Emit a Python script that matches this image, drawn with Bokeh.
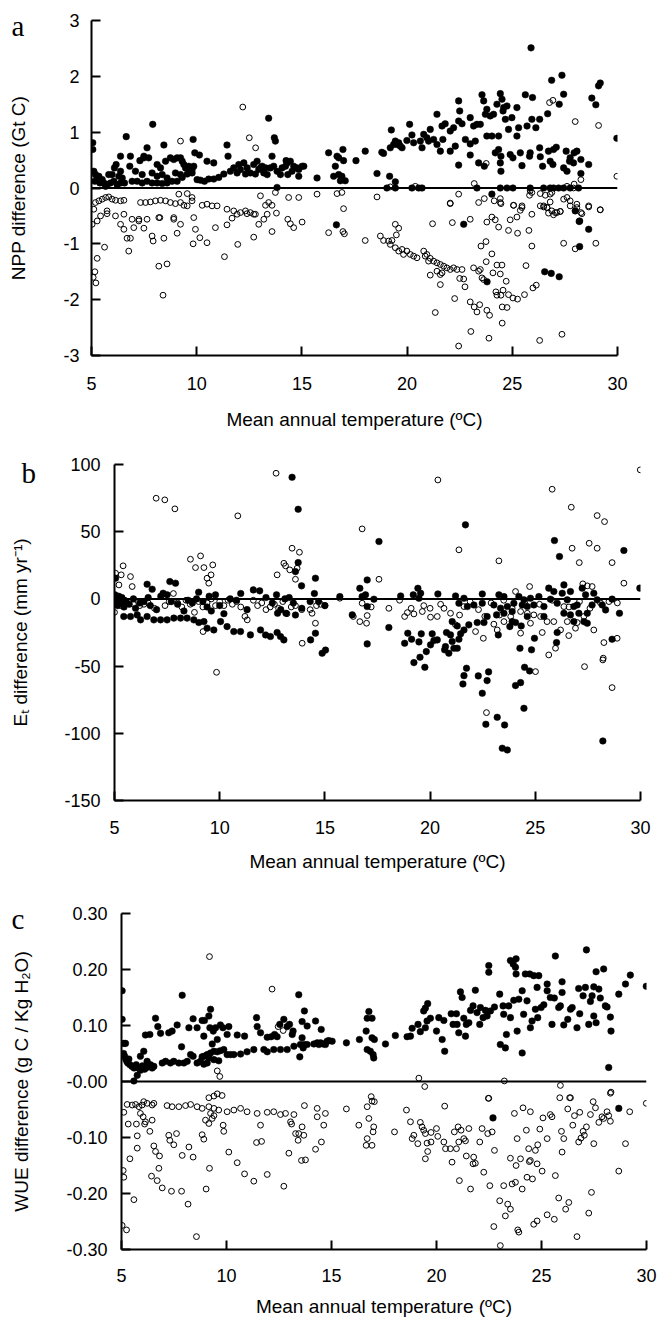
from bokeh.plotting import figure
from bokeh.models import Span, Label, FixedTicker, GridBox
from bokeh.embed import file_html
from bokeh.resources import INLINE

X_TICKS = [5, 10, 15, 20, 25, 30]
X_LABELS = ["5", "10", "15", "20", "25", "30"]
X_TITLE = "Mean annual temperature (ºC)"

# ---------------- Panel a : NPP difference (Gt C) ----------------
A_Y_TICKS = [-3, -2, -1, 0, 1, 2, 3]
A_Y_LABELS = ["-3", "-2", "-1", "0", "1", "2", "3"]
A_TITLE = "NPP difference (Gt C)"
A_FILLED = [
    (5.06,0.81),(5.06,0.69),(5.11,0.30),(5.19,0.24),(5.27,0.18),(5.35,0.21),(5.43,0.12),(5.51,0.15),
    (5.59,0.09),(5.67,0.03),(5.74,0.06),(5.90,0.09),(6.06,0.12),(6.22,0.06),(6.38,0.09),(6.57,0.09),
    (5.16,0.12),(5.40,0.09),(5.82,0.24),(6.65,0.92),(6.38,0.57),(6.17,0.42),(6.09,0.36),(6.85,0.57),
    (6.82,0.39),(7.64,0.72),(7.91,1.14),(7.30,0.49),(7.49,0.57),(8.44,0.77),(9.83,0.87),(9.91,0.63),
    (10.13,0.59),(10.49,0.48),(10.81,0.45),(11.44,0.77),(11.49,0.57),(13.42,1.25),(13.69,0.90),
    (13.74,0.84),(13.58,0.57),(14.25,0.49),(15.72,0.18),(16.27,0.63),(15.09,0.39),(14.85,0.33),
    (6.93,0.12),(7.17,0.12),(7.41,0.09),(7.64,0.12),(7.88,0.09),(8.12,0.09),(8.36,0.08),(8.59,0.09),
    (8.83,0.12),(9.07,0.12),(9.31,0.19),(9.55,0.25),(9.78,0.27),(10.02,0.15),(10.18,0.14),(10.37,0.12),
    (10.57,0.16),(10.81,0.16),(11.05,0.19),(11.29,0.25),(11.60,0.30),(11.92,0.27),(12.08,0.33),
    (12.32,0.25),(12.55,0.27),(12.79,0.25),(13.03,0.36),(13.19,0.27),(13.35,0.24),(13.50,0.36),
    (13.82,0.30),(13.98,0.24),(14.22,0.39),(14.33,0.24),(14.53,0.30),(14.77,0.36),(14.85,0.21),
    (15.01,0.39),(13.82,0.01),(7.49,0.54),(7.72,0.54),(8.12,0.42),(8.28,0.36),(8.52,0.48),(8.75,0.54),
    (8.91,0.51),(9.07,0.54),(9.23,0.54),(9.31,0.48),(9.39,0.42),(9.47,0.36),(9.62,0.39),(9.70,0.30),
    (9.78,0.33),(9.86,0.39),(9.23,0.24),(8.99,0.27),(8.59,0.18),(7.88,0.27),(8.12,0.21),(8.36,0.24),
    (7.41,0.24),(7.09,0.30),(6.38,0.30),(6.46,0.18),(6.30,0.21),(5.98,0.24),(11.76,0.36),(12.00,0.42),
    (12.24,0.45),(12.40,0.36),(12.71,0.42),(12.87,0.48),(13.11,0.39),(13.27,0.36),(12.95,0.33),
    (13.66,0.39),(14.06,0.36),(14.30,0.45),(14.45,0.48),(14.61,0.39),
    (16.67,0.57),(16.75,0.54),(16.95,0.69),(16.98,0.49),(16.59,0.39),(16.51,0.21),(16.75,0.24),
    (16.90,0.21),(17.06,0.13),(16.83,0.13),(17.57,0.49),(18.01,0.66),(18.57,0.26),(18.80,0.64),
    (18.88,0.62),(19.20,0.72),(19.25,1.04),(19.17,0.21),(19.44,0.11),(19.44,0.84),(19.52,0.78),
    (19.60,0.81),(19.68,0.75),(19.76,0.72),(19.36,0.78),(19.99,0.85),(20.12,1.14),(20.23,0.95),
    (20.31,0.81),(20.63,0.84),(20.71,0.72),(20.79,0.96),(20.94,0.90),(21.10,1.05),(21.02,0.84),
    (21.26,0.87),(21.42,0.78),(21.42,1.32),(21.58,0.66),(21.66,1.11),(21.81,1.15),(21.70,0.87),
    (22.05,0.66),(22.05,1.02),(22.21,1.08),(22.29,0.75),(22.45,1.56),(22.50,1.38),(22.45,1.20),
    (22.45,0.41),(22.61,1.15),(22.77,0.87),(23.00,0.59),(23.00,1.26),(23.00,0.79),(23.16,1.11),
    (23.24,0.84),(23.32,1.14),(23.48,1.14),(23.40,0.45),(23.56,1.67),(23.64,1.56),(23.72,1.32),
    (23.67,0.39),(23.79,1.41),(23.79,0.93),(23.95,1.29),(24.03,0.93),(24.11,1.32),(24.19,0.63),
    (24.27,1.50),(24.35,0.93),(24.35,0.69),(24.43,1.69),(24.46,0.57),(24.51,1.59),(24.43,0.45),
    (24.46,0.30),(24.56,1.38),(24.59,1.44),(24.67,1.23),(24.75,1.47),(24.82,1.05),(24.90,0.60),
    (24.98,1.26),(25.03,0.54),(25.22,1.44),(25.22,0.93),(25.30,1.08),(25.38,0.63),(25.46,0.40),
    (25.62,1.67),(25.70,1.11),(25.82,0.57),(25.85,0.63),(25.93,1.23),(25.96,1.62),(25.89,2.51),
    (26.12,1.08),(26.30,1.23),(26.30,0.72),(26.44,0.39),(26.33,0.56),(26.68,1.33),(26.72,0.66),
    (26.80,0.48),(26.87,1.93),(26.93,0.42),(26.96,0.69),(27.09,0.73),(27.23,1.50),(27.36,2.02),
    (27.44,1.68),(27.44,0.36),(27.56,0.66),(27.60,0.30),(27.72,0.48),(27.75,0.54),(27.91,0.45),
    (27.94,0.63),(28.07,0.66),(28.26,0.51),(28.26,0.26),(28.63,0.42),(28.78,1.61),(28.97,1.49),
    (29.10,1.83),(29.18,1.88),(29.97,0.89),
    (19.04,0.0),(19.44,0.0),(20.23,0.0),(20.55,0.0),(20.71,0.0),(23.32,0.0),(24.43,0.0),(24.75,0.0),
    (25.03,0.0),(25.85,0.0),(26.49,0.0),(26.80,0.0),(26.96,0.0),(27.20,0.0),(27.44,0.0),(27.75,0.0),
    (28.15,0.0),(24.03,-0.11),(27.99,-0.41),(28.20,-0.59),(16.64,-0.66),(22.69,-0.65),(23.80,-1.68),
    (26.54,-1.50),(26.85,-1.53),(27.23,-1.59),(28.18,-0.60),(28.63,-0.74),(28.20,-1.05),
]
A_OPEN = [
    (5.19,-0.26),(5.35,-0.23),(5.51,-0.20),(5.67,-0.17),(5.82,-0.16),(5.98,-0.20),(6.14,-0.22),
    (6.38,-0.23),(6.54,-0.22),(7.33,-0.26),(7.57,-0.26),(7.80,-0.25),(8.04,-0.23),(8.28,-0.22),
    (8.52,-0.23),(8.75,-0.26),(8.99,-0.28),(9.23,-0.26),(9.39,-0.31),(9.55,-0.32),(9.78,-0.23),
    (9.15,-0.11),(9.55,-0.10),(9.78,-0.17),(10.26,-0.31),(10.49,-0.29),(10.73,-0.32),(10.97,-0.32),
    (11.44,-0.38),(11.76,-0.41),(11.92,-0.47),(12.32,-0.41),(12.55,-0.44),(12.79,-0.47),(13.03,-0.14),
    (13.27,-0.31),(13.42,-0.26),(13.58,-0.31),(13.74,-0.08),(14.37,-0.17),(14.85,-0.17),(15.72,-0.11),
    (5.11,-0.38),(5.74,-0.41),(6.14,-0.50),(6.54,-0.47),(6.93,-0.56),(7.25,-0.56),(7.64,-0.56),
    (8.25,-0.53),(8.91,-0.53),(9.86,-0.53),(5.03,-0.65),(5.27,-0.59),(5.43,-0.50),(5.74,-0.46),
    (6.38,-0.65),(6.54,-0.74),(5.62,-1.06),(5.27,-1.26),(5.08,-1.60),(5.16,-1.50),(5.21,-1.70),
    (6.69,-0.90),(6.85,-0.90),(6.77,-1.13),(7.01,-0.71),(7.25,-0.59),(7.49,-0.72),(7.88,-0.86),
    (7.93,-0.95),(8.20,-0.53),(8.44,-0.90),(8.20,-1.40),(8.59,-1.36),(8.40,-1.92),(8.91,-0.56),
    (9.07,-0.81),(9.23,-0.65),(9.94,-0.74),(9.83,-1.00),(10.15,-0.89),(10.49,-0.98),(10.89,-0.71),
    (11.32,-1.23),(11.44,-0.66),(11.68,-0.54),(11.95,-1.01),(12.71,-0.88),(12.95,-0.65),(13.19,-0.56),
    (13.58,-0.78),(13.79,-0.45),(14.33,-0.56),(14.61,-0.71),(14.45,-0.64),(15.01,-0.61),(16.27,-0.80),
    (13.35,-0.47),(12.08,-0.44),(12.39,-0.46),(12.71,-0.47),(9.23,0.84),(12.19,1.45),(12.50,0.90),
    (12.80,0.72),
    (16.67,-0.10),(16.90,-0.08),(16.98,-0.37),(18.57,-0.16),(22.05,-0.27),(22.45,-0.11),(23.19,0.08),
    (23.40,-0.26),(23.67,-0.19),(24.14,-0.23),(24.43,-0.19),(24.46,-0.28),(25.06,-0.31),(25.46,-0.32),
    (25.38,-0.40),(25.82,-0.13),(25.93,-0.08),(26.33,-0.10),(26.57,-0.13),(26.80,-0.11),(26.88,-0.08),
    (26.49,-0.32),(26.65,-0.35),(26.80,-0.25),(27.04,-0.44),(27.28,-0.42),(27.44,-0.20),(27.60,-0.17),
    (27.75,-0.23),(28.07,-0.29),(28.26,-0.44),(28.63,-0.32),(29.18,-0.39),(28.26,0.15),(27.94,0.07),
    (27.60,0.03),(26.77,1.53),(26.93,1.57),(27.99,1.19),(29.10,1.12),(29.97,0.21),(23.76,0.44),
    (19.20,0.02),(20.39,0.03),(25.85,-0.05),(27.91,0.0),
    (16.95,-0.78),(17.02,-0.82),(18.01,-0.94),(18.73,-0.86),(18.88,-0.94),(19.12,-0.95),(19.20,-1.01),
    (19.28,-0.94),(19.44,-0.65),(19.60,-0.72),(19.49,-0.84),(19.44,-1.07),(19.60,-1.13),(19.76,-1.10),
    (19.83,-1.19),(19.99,-1.13),(20.15,-1.19),(20.31,-1.22),(20.47,-1.25),(20.79,-1.13),(20.86,-1.22),
    (20.94,-1.19),(21.10,-1.26),(21.02,-1.31),(21.26,-1.31),(21.42,-1.34),(21.58,-1.37),(21.74,-1.40),
    (21.89,-1.43),(22.05,-1.46),(22.21,-1.43),(22.37,-1.46),(22.61,-1.46),(21.10,-1.56),(21.42,-1.49),
    (21.58,-1.55),(21.66,-1.52),(21.58,-1.73),(22.50,-1.62),(22.69,-1.63),(22.75,-1.77),(22.26,-1.98),
    (21.34,-2.23),(21.21,-0.64),(22.15,-0.62),(22.05,-0.28),(23.00,-0.56),(23.16,-1.43),(23.40,-1.49),
    (23.48,-1.46),(23.56,-1.61),(23.64,-1.64),(23.76,-1.32),(23.51,-1.04),(23.75,-0.96),(24.03,-1.18),
    (23.79,-0.61),(24.03,-0.52),(24.19,-0.57),(24.35,-0.70),(24.43,-0.26),(24.90,-0.57),(25.06,-0.31),
    (25.22,-0.52),(25.46,-0.35),(25.93,-0.47),(25.79,-0.76),(24.82,-0.76),(25.25,-0.81),(25.93,-1.04),
    (25.65,-1.39),(24.27,-1.38),(24.51,-1.38),(24.08,-1.52),(24.43,-1.54),(24.71,-1.67),(24.22,-1.86),
    (24.27,-1.92),(24.56,-1.83),(24.46,-1.92),(24.82,-1.91),(25.03,-1.97),(25.25,-1.99),(25.58,-1.91),
    (25.98,-1.79),(26.14,-1.74),(24.52,-2.13),(24.75,-2.14),(23.00,-2.04),(23.19,-2.13),(23.32,-2.22),
    (23.45,-2.09),(23.79,-2.19),(23.92,-2.28),(24.52,-2.42),(23.03,-2.57),(23.89,-2.69),(22.45,-2.83),
    (26.30,-2.73),(27.36,-2.62),(27.44,-0.99),(27.99,-1.09),(28.07,-0.35),(28.31,-0.46),(28.63,-0.34),
    (28.97,-0.99),(29.18,-0.39),(27.28,-0.42),(26.96,-0.48),(26.65,-0.35),(26.72,-0.45),(26.33,-0.32),
    (26.49,-0.34),(26.88,-0.41),(27.12,-0.44),(27.75,-0.32),
]

# ---------------- Panel b : Et difference (mm/yr) ----------------
B_Y_TICKS = [-150, -100, -50, 0, 50, 100]
B_Y_LABELS = ["-150", "-100", "-50", "0", "50", "100"]
B_TITLE = "Eₜ difference (mm yr⁻¹)"
B_FILLED = [
    (13.44,90.5),(13.73,66.7),(21.68,55.1),(17.57,42.7),(25.91,43.4),(26.15,31.5),(29.21,36.0),
    (13.73,27.0),(13.60,20.3),(14.55,15.4),(13.89,9.7),(17.01,14.1),(16.66,7.9),(29.97,8.0),
    (25.64,8.0),(26.36,10.4),(5.05,15.4),(6.55,10.9),(6.79,7.2),(7.63,12.9),(7.90,11.7),(7.31,4.2),
    (5.44,-13.1),(5.76,-13.1),(6.08,-11.9),(6.24,-15.6),(6.55,-13.1),(6.87,-15.6),(7.19,-15.6),
    (7.50,-15.6),(7.82,-14.3),(8.14,-14.3),(8.45,-14.3),(8.77,-15.6),(9.01,-17.6),(9.25,-16.9),
    (9.40,-21.8),(9.72,-23.1),(10.04,-16.9),(10.35,-20.6),(10.67,-24.3),(10.99,-24.3),(11.46,-26.8),
    (11.94,-23.1),(12.18,-26.8),(12.41,-28.0),(12.73,-25.0),(12.89,-28.0),(13.05,-30.5),(14.32,-30.5),
    (14.55,-25.5),(14.87,-40.4),(15.03,-38.1),
    (5.02,3),(5.05,-2),(5.10,0),(5.15,-5),(5.20,2),(5.30,-3),(5.35,1),(5.45,-6),(5.55,-2),(5.70,-4),
    (5.90,0),(6.00,-7),(6.20,-3),(6.40,-2),(6.60,1),(6.70,-5),(7.00,-8),(7.20,2),(7.50,3),(7.70,-2),
    (8.00,-4),(8.30,-9),(8.50,-1),(8.70,-3),(8.90,0),(9.00,5),(9.20,-2),(9.40,-6),(9.50,2),(9.60,-9),
    (9.80,3),(10.00,-5),(10.20,-11),(10.50,0),(10.80,-1),(11.00,4),(11.30,-8),(11.60,6.7),(11.90,6),
    (12.20,1),(12.50,-3),(12.70,3),(12.90,-8),(13.10,0),(13.30,1),(13.50,-3),(13.60,-12),(13.90,-7),
    (14.30,-2),(14.50,4),(14.70,-2),(15.00,-5),(12.75,-10.7),(13.15,-10.7),
    (15.71,1.7),(16.77,1.7),(16.93,3.0),(17.01,-5.7),(17.33,-0.2),(18.60,2.2),(19.20,3.0),(19.42,7.9),
    (19.47,0.5),(19.55,4.2),(20.37,3.7),(21.21,2.2),(21.37,-3.2),(21.61,0.5),(21.77,-5.7),(22.08,-4.5),
    (22.48,3.7),(22.48,-3.2),(23.03,-4.5),(23.27,3.0),(23.35,-6.9),(23.51,1.7),(23.67,-5.7),(23.90,-9.4),
    (23.98,-3.2),(24.22,1.7),(24.38,-4.5),(24.46,-0.7),(24.62,-5.7),(24.77,0.5),(24.93,-4.5),(25.17,1.7),
    (25.41,-5.7),(25.72,-0.2),(25.88,5.5),(26.04,-3.2),(26.28,4.2),(26.52,-0.7),(26.67,5.5),(26.83,-5.7),
    (26.99,-4.5),(27.23,8.0),(27.39,3.0),(27.47,-10.7),(27.70,-4.5),(27.78,4.2),(27.94,-0.7),(28.18,-4.5),
    (28.34,-8.2),(28.65,-0.2),(29.00,-10.7),
    (16.30,-11.9),(18.04,-21.3),(17.01,-33.5),(18.79,-33.0),(19.12,-30.0),(19.47,-32.0),(18.94,-25.5),
    (19.58,-26.0),(20.10,-26.0),(20.34,-30.5),(20.78,-25.0),(20.97,-26.8),(20.73,-35.5),(21.05,-31.7),
    (21.13,-36.7),(20.89,-40.4),(20.69,-37.9),(21.29,-36.7),(21.45,-26.0),(21.37,-30.0),(21.61,-23.1),
    (21.84,-19.3),(22.24,-17.6),(22.56,-17.6),(21.05,-16.9),(21.29,-20.1),(19.52,-43.4),(19.82,-39.2),
    (20.02,-34.2),(20.18,-31.0),(23.24,-26.8),(23.79,-20.6),(23.90,-16.9),(24.06,-17.6),(24.33,-20.1),
    (24.27,-36.7),(24.82,-37.9),(24.96,-29.3),(25.41,-13.1),(26.01,-32.5),(26.04,-25.0),(27.31,-16.9),
    (27.47,-18.1),(28.65,-30.0),(23.16,-11.9),(22.71,-13.1),(23.51,-10.7),(24.62,-13.1),(26.36,-10.7),
    (26.67,-11.9),(26.83,-16.9),(27.07,-10.7),
    (19.23,-47.4),(19.75,-50.9),(21.73,-51.6),(21.61,-57.1),(21.56,-63.3),(22.29,-57.3),(22.78,-54.3),
    (22.71,-60.8),(22.48,-70.2),(22.65,-93.3),(23.19,-88.1),(23.54,-93.8),(23.43,-111.1),(23.67,-112.4),
    (24.06,-64.5),(24.30,-62.3),(24.46,-81.4),(24.49,-50.9),(24.73,-53.6),(28.21,-105.7),
]
B_OPEN = [
    (6.98,74.9),(7.39,73.7),(7.87,67.0),(10.86,61.8),(12.68,93.5),(20.37,88.5),(16.77,52.1),(17.57,14.6),
    (21.37,36.5),(23.27,28.3),(25.80,81.6),(26.71,68.2),(27.94,62.0),(28.29,57.5),(26.75,37.7),
    (27.56,41.4),(27.94,37.7),(27.09,27.0),(28.65,27.0),(29.99,96.0),(29.21,11.7),(24.73,9.2),(24.06,5.5),
    (27.26,11.2),(27.47,9.7),(27.70,9.2),(8.61,29.5),(9.09,32.0),(8.85,23.3),(9.25,23.3),(9.67,25.3),
    (9.59,17.9),(9.40,15.4),(9.48,11.7),(5.41,24.6),(5.05,19.1),(5.32,17.9),(5.21,10.4),(5.76,16.6),
    (5.84,9.2),(12.73,17.9),(13.05,26.5),(13.13,24.6),(13.33,21.6),(13.44,37.7),(13.79,34.7),(13.68,22.8),
    (13.60,14.6),
    (5.00,-10),(5.30,-5),(5.50,-1),(5.90,-4),(6.20,-5),(6.40,-4),(6.60,-3),(6.90,-7),(7.40,-5),(7.60,-2),
    (7.80,4),(8.00,-3),(8.20,-6),(8.40,-1),(8.60,-4),(8.80,-10),(9.00,-2),(9.20,-6),(9.40,-3),(9.60,0),
    (9.80,-5),(10.00,-2),(10.20,-5),(10.40,-1),(10.60,-4),(10.80,-2),(11.00,-6),(11.20,-13),(11.60,-1),
    (11.80,-5),(12.00,-3),(12.20,-8),(12.40,-6),(12.60,-4),(12.80,-7),(13.00,-2),(13.20,-11),(13.40,-6),
    (13.60,-5),(13.90,-8),(14.30,-8),(14.60,-5),(14.80,-4),(15.00,-5),(13.92,-33.0),(9.21,-24.3),
    (11.31,-15.6),(14.39,-10.7),(14.55,-18.1),
    (16.35,-13.1),(16.66,-16.9),(16.98,-18.1),(17.01,-12.4),(18.04,-7.0),(18.79,-13.1),(18.92,-10.2),
    (19.23,-11.2),(19.63,-9.4),(20.02,-13.6),(20.34,-13.1),(20.66,-7.0),(20.97,-10.7),(21.21,-19.3),
    (21.61,-5.7),(22.16,-24.3),(22.53,-29.3),(23.03,-18.8),(23.19,-23.1),(23.51,-16.9),(23.83,-13.1),
    (24.30,-25.5),(24.77,-18.1),(25.33,-25.0),(25.64,-41.7),(25.96,-36.7),(26.20,-23.1),(26.59,-27.3),
    (26.52,-16.9),(26.91,-21.8),(27.78,-23.1),(28.26,-32.5),(28.23,-44.1),(28.89,-29.3),(27.31,-13.1),
    (26.99,-17.6),(26.36,-5.7),(25.88,-16.9),(25.56,-16.9),(25.25,-13.1),(24.93,-11.9),(24.62,-10.7),
    (24.30,-9.4),(15.71,0.5),(16.77,-3.2),(17.20,-6),(18.55,-1),(19.70,-5),(20.50,-4),(21.90,-2),
    (22.30,-8),(22.90,-3),(23.50,-1),(23.90,-7),(24.50,-2),(25.20,-4),(25.80,-1),(26.60,-6),(27.10,-2),
    (27.60,-7),(28.10,-3),(28.50,-2),(28.90,-3),(19.10,-7),(20.00,-7),(21.40,-12),(22.60,-13),(23.30,-12),
    (22.68,-84.6),(25.01,-54.1),(27.34,-50.4),(28.65,-66.0),(28.21,-45.4),(9.85,-54.6),
]

# ---------------- Panel c : WUE difference ----------------
C_Y_TICKS = [-0.3, -0.2, -0.1, 0.0, 0.1, 0.2, 0.3]
C_Y_LABELS = ["-0.30", "-0.20", "-0.10", "-0.00", "0.10", "0.20", "0.30"]
C_TITLE = "WUE difference (g C / Kg H₂O)"
C_FILLED = [
    (5.03,0.162),(5.03,0.111),(5.11,0.068),(5.19,0.068),(5.10,0.050),(5.15,0.045),(5.20,0.040),
    (5.25,0.036),(5.30,0.033),(5.35,0.040),(5.40,0.030),(5.50,0.027),(5.60,0.024),(5.70,0.030),
    (5.80,0.024),(5.90,0.020),(6.00,0.028),(6.10,0.022),(6.20,0.025),(6.30,0.030),(5.59,0.001),
    (5.75,0.011),(5.90,0.045),(6.06,0.054),(6.22,0.036),(6.38,0.030),(6.46,0.024),(6.54,0.027),
    (6.14,0.083),(6.35,0.084),(6.62,0.113),(6.73,0.098),(6.86,0.086),(7.25,0.087),(7.41,0.090),
    (7.65,0.101),(7.89,0.154),(7.86,0.062),(6.94,0.033),(7.10,0.036),(7.33,0.033),(7.49,0.036),
    (7.73,0.033),(7.97,0.033),(8.13,0.036),(8.29,0.048),(8.41,0.045),(8.60,0.033),(8.76,0.036),
    (8.92,0.045),(9.08,0.048),(9.24,0.051),(9.40,0.054),(9.56,0.053),(9.71,0.055),(9.87,0.057),
    (10.03,0.048),(10.19,0.048),(10.35,0.048),(10.67,0.049),(10.98,0.053),(11.30,0.057),(11.78,0.057),
    (11.94,0.053),(12.25,0.057),(12.57,0.057),(12.89,0.057),(13.21,0.063),(13.52,0.066),(13.84,0.066),
    (14.16,0.067),(14.48,0.069),(14.79,0.072),(9.32,0.067),(9.56,0.075),(9.63,0.037),(9.40,0.039),
    (9.08,0.033),(8.92,0.031),(8.84,0.044),(9.16,0.042),(8.21,0.096),(8.41,0.112),(8.60,0.096),
    (8.92,0.081),(8.84,0.109),(8.95,0.109),(9.16,0.117),(9.24,0.129),(9.21,0.096),(9.37,0.090),
    (9.48,0.096),(9.71,0.101),(9.83,0.096),(10.11,0.098),(10.03,0.084),(10.51,0.083),(10.86,0.081),
    (11.43,0.114),(11.46,0.098),(11.62,0.087),(11.94,0.079),(12.13,0.080),(12.29,0.084),(12.41,0.080),
    (12.54,0.102),(12.73,0.111),(12.89,0.098),(13.00,0.102),(13.13,0.084),(13.17,0.090),(13.44,0.155),
    (13.71,0.126),(13.60,0.107),(13.84,0.099),(14.24,0.108),(14.51,0.093),(13.60,0.078),(13.49,0.044),
    (13.65,0.060),(13.71,0.066),(14.32,0.069),(14.40,0.066),(14.60,0.067),(14.87,0.073),(14.71,0.066),
    (15.03,0.072),(15.71,0.069),(16.33,0.075),(16.65,0.090),(16.78,0.125),(16.70,0.113),(16.93,0.113),
    (16.70,0.057),(16.85,0.054),(17.01,0.042),(16.98,0.048),(16.93,0.078),(17.04,0.075),(17.57,0.067),
    (18.04,0.082),(18.60,0.080),(18.76,0.081),(18.84,0.095),(19.12,0.102),(19.23,0.089),(19.39,0.126),
    (19.47,0.131),(19.58,0.139),(19.47,0.096),(19.55,0.108),(19.71,0.113),(20.00,0.090),(20.11,0.114),
    (20.27,0.075),(20.35,0.109),(20.39,0.054),(20.70,0.121),(20.79,0.102),(20.95,0.121),(20.98,0.102),
    (21.06,0.087),(21.14,0.160),(21.22,0.150),(21.30,0.113),(21.38,0.081),(21.42,0.102),(21.54,0.105),
    (21.62,0.127),(21.74,0.135),(21.85,0.163),(21.93,0.123),(22.06,0.102),(22.09,0.132),(22.22,0.114),
    (22.33,0.127),(22.41,0.117),(22.49,0.207),(22.49,0.195),(22.57,0.126),(22.76,0.133),(23.01,0.156),
    (23.04,0.066),(23.17,0.135),(23.20,0.120),(23.28,0.060),(23.33,0.084),(23.44,0.135),(23.52,0.114),
    (23.52,0.216),(23.65,0.210),(23.76,0.204),(23.79,0.219),(23.79,0.192),(23.68,0.145),(23.84,0.090),
    (23.92,0.147),(24.08,0.162),(24.08,0.051),(24.15,0.120),(24.23,0.192),(24.31,0.144),(24.44,0.192),
    (24.47,0.096),(24.55,0.108),(24.63,0.189),(24.71,0.129),(24.79,0.168),(24.82,0.114),(24.87,0.189),
    (24.98,0.132),(25.11,0.137),(25.27,0.174),(25.27,0.162),(25.42,0.150),(25.50,0.102),(25.61,0.149),
    (25.66,0.224),(25.82,0.132),(25.90,0.135),(25.98,0.178),(25.98,0.159),(26.06,0.101),(26.25,0.111),
    (26.38,0.129),(26.46,0.132),(26.69,0.096),(26.77,0.166),(26.82,0.121),(26.98,0.153),(27.09,0.168),
    (27.14,0.235),(27.25,0.102),(27.33,0.143),(27.41,0.153),(27.49,0.169),(27.49,0.117),(27.60,0.196),
    (27.60,0.105),(27.73,0.165),(27.80,0.149),(27.96,0.201),(28.04,0.135),(28.12,0.133),(28.20,0.025),
    (28.28,0.115),(28.31,0.090),(28.68,0.156),(29.00,0.174),(29.23,0.190),(29.99,0.170),
    (22.69,-0.065),(28.68,-0.048),
]
C_OPEN = [
    (9.19,0.223),(12.17,0.165),(12.46,0.098),(12.70,0.091),(9.56,0.019),(9.68,0.009),
    (19.16,0.006),(19.44,-0.009),(23.23,0.001),(25.90,-0.007),(16.89,-0.027),(22.47,-0.030),
    (25.87,-0.029),(26.34,-0.029),(27.46,-0.036),(28.31,-0.019),
    (5.11,-0.055),(5.27,-0.041),(5.51,-0.042),(5.67,-0.041),(5.83,-0.045),(5.98,-0.042),(6.06,-0.036),
    (6.22,-0.039),(6.46,-0.042),(6.54,-0.039),(7.17,-0.043),(7.41,-0.045),(7.73,-0.045),(8.05,-0.043),
    (8.29,-0.041),(8.60,-0.045),(8.84,-0.048),(9.16,-0.045),(9.40,-0.048),(9.63,-0.051),(10.03,-0.054),
    (10.35,-0.051),(10.67,-0.048),(10.98,-0.054),(11.46,-0.057),(11.94,-0.055),(12.25,-0.054),
    (12.57,-0.059),(12.81,-0.057),(13.21,-0.059),(13.71,-0.043),(14.32,-0.048),(14.71,-0.057),
    (5.32,-0.076),(5.71,-0.076),(6.10,-0.076),(5.90,-0.057),(6.03,-0.063),(6.14,-0.072),(6.35,-0.089),
    (6.46,-0.069),(5.75,-0.097),(5.75,-0.119),(5.40,-0.138),(5.59,-0.211),(5.08,-0.159),(5.11,-0.171),
    (5.03,-0.257),(5.24,-0.265),(6.54,-0.115),(6.62,-0.125),(6.81,-0.133),(6.78,-0.155),(6.43,-0.169),
    (6.70,-0.177),(6.94,-0.190),(7.38,-0.196),(7.86,-0.196),(8.17,-0.219),(8.57,-0.277),(7.25,-0.096),
    (7.30,-0.105),(7.49,-0.113),(7.62,-0.093),(7.89,-0.132),(8.21,-0.117),(8.41,-0.135),(8.84,-0.095),
    (8.92,-0.103),(9.03,-0.192),(9.19,-0.155),(9.00,-0.069),(9.16,-0.075),(9.32,-0.066),(9.24,-0.057),
    (9.40,-0.061),(9.84,-0.078),(9.87,-0.089),(10.11,-0.126),(10.51,-0.145),(10.86,-0.165),(11.30,-0.178),
    (11.62,-0.078),(11.43,-0.109),(11.67,-0.107),(11.94,-0.166),(12.73,-0.187),(12.97,-0.128),
    (13.05,-0.072),(13.10,-0.076),(13.29,-0.093),(13.44,-0.093),(13.41,-0.105),(13.60,-0.081),
    (13.68,-0.096),(13.57,-0.141),(13.76,-0.140),(14.24,-0.121),(14.52,-0.108),(14.63,-0.078),
    (14.32,-0.063),(9.16,-0.029),(9.40,-0.026),(9.56,-0.022),(9.79,-0.025),
    (15.71,-0.049),(16.30,-0.078),(16.70,-0.045),(16.93,-0.035),(17.04,-0.036),(16.78,-0.066),
    (17.01,-0.081),(16.98,-0.090),(16.70,-0.102),(16.65,-0.114),(16.93,-0.114),(18.00,-0.090),
    (18.57,-0.051),(18.76,-0.072),(18.92,-0.096),(18.84,-0.102),(19.11,-0.111),(19.23,-0.073),
    (19.31,-0.081),(19.39,-0.087),(19.47,-0.093),(19.55,-0.110),(19.47,-0.138),(19.58,-0.125),
    (19.74,-0.108),(19.74,-0.091),(20.00,-0.084),(20.06,-0.098),(20.35,-0.108),(20.43,-0.120),
    (20.39,-0.044),(20.66,-0.120),(20.74,-0.144),(20.85,-0.090),(20.95,-0.120),(21.06,-0.108),
    (21.03,-0.081),(21.17,-0.087),(21.30,-0.102),(21.38,-0.106),(21.54,-0.084),(21.42,-0.133),
    (21.77,-0.135),(21.74,-0.147),(21.85,-0.146),(21.09,-0.177),(21.62,-0.192),(22.06,-0.108),
    (22.17,-0.084),(22.25,-0.162),(22.44,-0.093),(22.49,-0.030),(22.54,-0.186),(22.65,-0.090),
    (22.76,-0.123),(22.73,-0.259),(23.01,-0.213),(23.20,-0.186),(23.28,-0.240),(23.39,-0.219),
    (23.52,-0.228),(23.52,-0.137),(23.60,-0.183),(23.76,-0.180),(23.79,-0.150),(23.84,-0.102),
    (23.71,-0.057),(24.00,-0.138),(24.08,-0.192),(24.12,-0.047),(24.28,-0.087),(24.31,-0.171),
    (24.39,-0.120),(24.42,-0.143),(24.47,-0.141),(24.47,-0.054),(24.57,-0.174),(24.63,-0.255),
    (24.71,-0.123),(24.79,-0.249),(24.82,-0.113),(24.79,-0.147),(25.03,-0.160),(24.92,-0.085),
    (25.07,-0.065),(25.27,-0.102),(25.27,-0.238),(25.42,-0.059),(25.50,-0.063),(25.61,-0.246),
    (25.66,-0.168),(25.82,-0.208),(25.95,-0.089),(25.98,-0.126),(26.06,-0.102),(26.15,-0.228),
    (26.25,-0.049),(26.30,-0.216),(26.38,-0.029),(26.49,-0.078),(26.57,-0.061),(26.69,-0.277),
    (26.77,-0.108),(26.82,-0.055),(26.88,-0.101),(26.98,-0.089),(27.04,-0.096),(27.14,-0.081),
    (27.25,-0.235),(27.33,-0.059),(27.38,-0.198),(27.49,-0.111),(27.57,-0.047),(27.73,-0.073),
    (27.88,-0.063),(27.96,-0.066),(28.12,-0.054),(28.20,-0.061),(28.28,-0.071),(28.28,-0.021),
    (28.68,-0.160),(29.00,-0.111),(29.20,-0.054),(29.99,-0.039),(23.04,-0.293),(23.92,-0.269),
    (23.87,-0.265),
]

FONT = "Liberation Sans"


def no_frame_align(p):
    if "frame_align" in p.properties():
        p.frame_align = False


def panel(width, height, left, right, top, bottom, y_lo, y_hi, y_ticks, y_labels, y_title,
          filled, opened, ytick_standoff, ylab_standoff, xtick_standoff, xlab_standoff):
    p = figure(width=width, height=height, x_range=(5, 30), y_range=(y_lo, y_hi),
               output_backend="svg", toolbar_location=None,
               min_border_left=left, min_border_right=right,
               min_border_top=top, min_border_bottom=bottom)
    no_frame_align(p)
    p.grid.visible = False
    p.outline_line_color = None
    p.xaxis.ticker = FixedTicker(ticks=X_TICKS)
    p.yaxis.ticker = FixedTicker(ticks=y_ticks)
    p.xaxis.major_label_overrides = dict(zip(X_TICKS, X_LABELS))
    p.yaxis.major_label_overrides = dict(zip(y_ticks, y_labels))
    p.xaxis.axis_label = X_TITLE
    p.yaxis.axis_label = y_title
    for ax in (p.xaxis[0], p.yaxis[0]):
        ax.axis_line_width = 2
        ax.axis_line_color = "black"
        ax.major_tick_line_width = 2
        ax.major_tick_line_color = "black"
        ax.major_tick_in = 9
        ax.major_tick_out = 0
        ax.minor_tick_line_color = None
        ax.major_label_text_font = FONT
        ax.major_label_text_font_size = "18px"
        ax.major_label_text_color = "black"
        ax.axis_label_text_font = FONT
        ax.axis_label_text_font_size = "19px"
        ax.axis_label_text_font_style = "normal"
        ax.axis_label_text_color = "black"
    p.yaxis.major_label_standoff = ytick_standoff
    p.yaxis.axis_label_standoff = ylab_standoff
    p.xaxis.major_label_standoff = xtick_standoff
    p.xaxis.axis_label_standoff = xlab_standoff

    p.add_layout(Span(location=0, dimension="width", line_color="black", line_width=2,
                      level="underlay"))

    ox, oy = zip(*opened)
    fx, fy = zip(*filled)
    p.scatter(list(ox), list(oy), marker="circle", size=5.8, fill_color=None,
              line_color="black", line_width=1.0)
    p.scatter(list(fx), list(fy), marker="circle", size=6.6, fill_color="black",
              line_color="black", line_width=0.5)
    return p


def letter_panel(letter, lx, ly):
    # small transparent overlay holding the panel letter (drawn inside its own frame)
    f = figure(width=56, height=72, output_backend="svg", toolbar_location=None,
               x_axis_type=None, y_axis_type=None, min_border=0,
               min_border_left=0, min_border_right=0, min_border_top=0, min_border_bottom=0,
               background_fill_color=None, border_fill_color=None, outline_line_color=None,
               align="start")
    no_frame_align(f)
    f.add_layout(Label(x=lx, y=ly, x_units="screen", y_units="screen", text=letter,
                       text_font="Liberation Serif", text_font_size="29px",
                       text_baseline="alphabetic", text_color="black"))
    return f


pa = panel(660, 440, 91, 43, 20, 85, -3, 3, A_Y_TICKS, A_Y_LABELS, A_TITLE, A_FILLED, A_OPEN,
           12, 31, 21, 16)
pb = panel(660, 440, 114, 20, 24, 80, -150, 100, B_Y_TICKS, B_Y_LABELS, B_TITLE, B_FILLED, B_OPEN,
           14, 30, 20, 14)
pc = panel(660, 440, 121, 14, 33, 71, -0.3, 0.3, C_Y_TICKS, C_Y_LABELS, C_TITLE, C_FILLED, C_OPEN,
           14, 31, 19, 11)

la = letter_panel("a", 11, 47)
lb = letter_panel("b", 21, 40)
lc = letter_panel("c", 11, 34)

grid = GridBox(children=[(pa, 0, 0), (la, 0, 0), (pb, 1, 0), (lb, 1, 0), (pc, 2, 0), (lc, 2, 0)],
               spacing=0)
open("out.html", "w").write(file_html(grid, INLINE))
